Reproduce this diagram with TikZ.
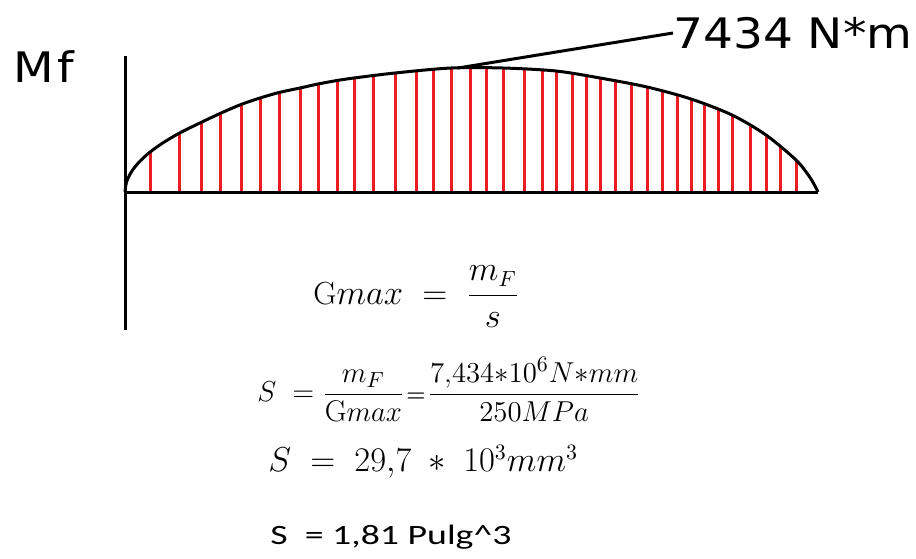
\documentclass[tikz,border=0pt]{standalone}
\usepackage{fontspec}
\usepackage{amsmath}
\newfontfamily\signfont[FakeStretch=1.12]{DejaVu Sans}
\newfontfamily\calibrifont[FakeStretch=1.35]{Carlito}
\definecolor{paintred}{RGB}{237,28,36}
\tikzset{
  axisline/.style={line width=1.5pt, black},
  hatchline/.style={line width=1.5pt, paintred},
  biglabel/.style={font=\signfont\fontsize{21}{25}\selectfont, inner sep=0pt},
  formula/.style={font=\fontsize{16}{20}\selectfont, inner sep=0pt}
}
\newcommand{\momentcurve}{(125,192) (126.5,182.1) (131.2,172.2) (138.9,162.3) (149.6,152.4) (163.5,142.5) (180.4,132.6) (200.5,122.7) (220,113.5) (241,104.5) (260,98) (279,92.5) (300,88) (318,84) (337,80.5) (354,78) (395,73) (451,68) (503,68) (556,71) (600,78) (647,87) (691,99) (732,115) (766,135) (796,160) (809,176) (815,186) (818,192)}
\begin{document}
\begin{tikzpicture}[x=0.5pt, y=-0.5pt]
\useasboundingbox (0,0) rectangle (916,558);

\coordinate (top) at (125,56);
\coordinate (O) at (125,192);
\coordinate (bottom) at (125,330);
\coordinate (end) at (818,192);
\coordinate (peak) at (458,68);

% hatching under the curve
\begin{scope}
\clip plot[smooth] coordinates {\momentcurve} -- cycle;
\foreach \x in {150,179,201,220,241,260,279,300,318,337,354,373,395,416,433,451,470,486,503,524,542,556,572,586,600,615,631,647,662,677,691,704,718,732,750,766,780,796}
  \draw[hatchline] (\x,194) -- (\x,40);
\end{scope}

\draw[axisline] plot[smooth] coordinates {\momentcurve};
\draw[axisline] (top) -- (bottom);
\draw[axisline] (O) -- (end);

\node[biglabel, anchor=west] (mflabel) at (13,67) {M\kern2pt f};
\node[biglabel, anchor=west] (peaklabel) at (673,33) {7434 N*m};
\draw[axisline] (peak) -- (peaklabel.west);

\node[formula, anchor=west] (eqgmax) at (313,297) {$\mathrm{G}max\;=\;\dfrac{m_F}{s}$};
\node[formula, font=\fontsize{15}{19}\selectfont, anchor=west] (eqs) at (257,390) {$S\;=\dfrac{m_F}{\mathrm{G}max}$\hspace{1pt}{\fontsize{11}{13}\selectfont\textbf{=}}\hspace{1pt}$\dfrac{7{,}434{*}10^6N{*}mm}{250MPa}$};
\node[formula, anchor=west] (eqsval) at (268,462) {$S\;=\;29{,}7\;*\;10^3mm^3$};
\node[font=\calibrifont\fontsize{14}{17}\selectfont, inner sep=0pt, anchor=west] (eqspulg) at (270,537) {S\ \ = 1,81 Pulg\^{}3};
\end{tikzpicture}
\end{document}
